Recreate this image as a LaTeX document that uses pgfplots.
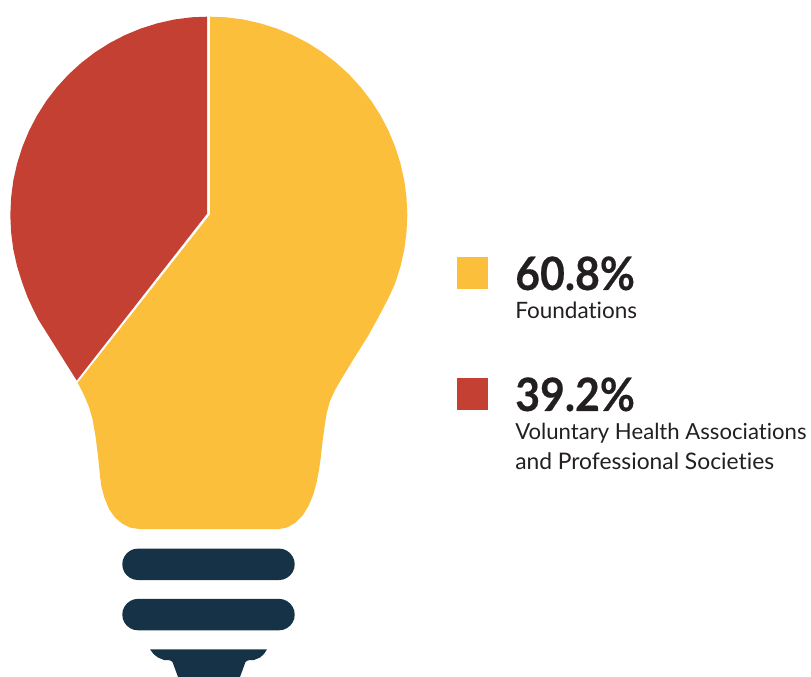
\documentclass[border=0pt]{standalone}
\usepackage{fontspec}
\setmainfont{Lato}[Ligatures=NoCommon]
\newfontfamily\pctfont{Lato}[Ligatures=NoCommon, FakeStretch=0.93, FakeBold=0.4, BoldFont={Lato Bold}]
\usepackage{pgfplots}
\pgfplotsset{compat=1.18}

\definecolor{bulbyellow}{RGB}{251,191,59}
\definecolor{bulbred}{RGB}{196,64,50}
\definecolor{bulbnavy}{RGB}{21,50,70}
\definecolor{labeltext}{RGB}{35,31,32}

\begin{document}
\begin{tikzpicture}
\useasboundingbox (0,0) rectangle (608.25pt,507.75pt);
\begin{axis}[
    scale only axis,
    width=608.25pt, height=507.75pt,
    xmin=0, xmax=811,
    ymin=0, ymax=677,
    y dir=reverse,
    hide axis,
    no markers,
]
  % red share, 39.2%
  \addplot [draw=none, fill=bulbred] coordinates {
    (207,16.7) (191.5,17.3) (174.3,19.5) (157.4,23.3) (140.9,28.5) (124.9,35.1)
    (109.55,43.1) (94.9,52.4) (81.2,62.9) (68.4,74.6) (56.7,87.4) (46.2,101.1)
    (36.9,115.75) (28.9,131.1) (22.3,147.1) (17.1,163.6) (13.3,180.5) (11.1,197.7)
    (10.3,215) (11.1,232.3) (13.3,249.5) (17.1,266.4) (22.3,282.9) (27.5,297)
    (33,309) (38,319) (76.7,380.5) (207,213.8)
  } -- cycle;

  % yellow share, 60.8%
  \addplot [draw=none, fill=bulbyellow] coordinates {
    (210,16.7) (226.1,17.3) (243.3,19.5) (260.2,23.3) (276.7,28.5) (292.7,35.1)
    (308.05,43.1) (322.7,52.4) (336.4,62.9) (349.2,74.6) (360.9,87.4) (371.4,101.1)
    (380.7,115.75) (388.7,131.1) (395.3,147.1) (400.5,163.6) (404.3,180.5) (406.5,197.7)
    (407.3,215) (406.5,232.3) (404.3,249.5) (400.5,266.4) (395.3,282.9) (388.5,298)
    (378,318) (368,336) (353,360) (342,378) (335,390) (330,401) (326.7,413)
    (324.5,427) (322.5,442) (320.7,458) (319,470) (316.7,482) (313.5,494) (309,505)
    (303,515) (295,523) (287,527.5) (279,529) (139,529) (130,527.5) (122,523.5) (115,517.5)
    (109,509) (104.5,498) (101.5,487) (100,476) (98,456) (95.5,436) (92.5,419) (89,407)
    (84,395) (77.7,382.7) (210,214.5)
  } -- cycle;

  % screw base
  \addplot [draw=none, fill=bulbnavy] coordinates {
    (279,548.6) (283.1,549.1) (286.85,550.7) (290.1,553.2) (292.6,556.45) (294.2,560.2)
    (294.7,564.3) (294.2,568.4) (292.6,572.15) (290.1,575.4) (286.85,577.9) (283.1,579.5)
    (279,580) (138,580) (133.9,579.5) (130.15,577.9) (126.9,575.4) (124.4,572.15)
    (122.8,568.4) (122.3,564.3) (122.8,560.2) (124.4,556.45) (126.9,553.2) (130.15,550.7)
    (133.9,549.1) (138,548.6)
  } -- cycle;
  \addplot [draw=none, fill=bulbnavy] coordinates {
    (279,598.9) (283.1,599.4) (286.85,601) (290.1,603.5) (292.6,606.75) (294.2,610.5)
    (294.7,614.6) (294.2,618.7) (292.6,622.45) (290.1,625.7) (286.85,628.2) (283.1,629.8)
    (279,630.3) (138,630.3) (133.9,629.8) (130.15,628.2) (126.9,625.7) (124.4,622.45)
    (122.8,618.7) (122.3,614.6) (122.8,610.5) (124.4,606.75) (126.9,603.5) (130.15,601)
    (133.9,599.4) (138,598.9)
  } -- cycle;
  \addplot [draw=none, fill=bulbnavy] coordinates {
    (150,649.3) (267,649.3) (264,654) (260,657.5) (254,660) (248,660.3)
    (245.5,662) (240,677) (178,677) (172.5,662) (170,660.3) (164,660)
    (158,657.5) (153.5,654)
  } -- cycle;

  % legend swatches
  \addplot [draw=none, fill=bulbyellow] coordinates {(457,257) (488,257) (488,289) (457,289)} -- cycle;
  \addplot [draw=none, fill=bulbred] coordinates {(457,378) (488,378) (488,410) (457,410)} -- cycle;

  \node [anchor=base west, inner sep=0pt, text=labeltext, font=\pctfont\fontsize{34.5}{34}\selectfont\bfseries] at (axis cs:515,290) {60.8\%};
  \node [anchor=base west, inner sep=0pt, text=labeltext, font=\fontsize{16.9}{17}\selectfont] at (axis cs:515,318.7) {Foundations};
  \node [anchor=base west, inner sep=0pt, text=labeltext, font=\pctfont\fontsize{34.5}{34}\selectfont\bfseries] at (axis cs:515,411) {39.2\%};
  \node [anchor=base west, inner sep=0pt, text=labeltext, font=\fontsize{16.6}{17}\selectfont] at (axis cs:515,440) {Voluntary Health Associations};
  \node [anchor=base west, inner sep=0pt, text=labeltext, font=\fontsize{17.1}{17}\selectfont] at (axis cs:515,469.3) {and Professional Societies};
\end{axis}
\end{tikzpicture}
\end{document}
